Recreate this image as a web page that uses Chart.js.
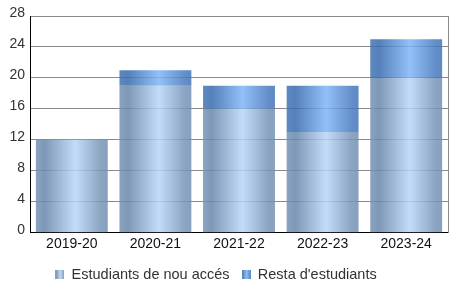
<!DOCTYPE html>
<html><head><meta charset="utf-8">
<script src="https://cdn.jsdelivr.net/npm/chart.js@4.4.1/dist/chart.umd.min.js"></script>
<style>html,body{margin:0;padding:0;background:#fff}#wrap{width:456px;height:305px}</style>
</head><body><div id="wrap"><canvas id="c" width="456" height="305"></canvas></div>
<script>
const categories = ["2019-20","2020-21","2021-22","2022-23","2023-24"];
const seriesNames = ["Estudiants de nou accés","Resta d'estudiants"];
const nouAcces = [12,19,16,13,20];
const resta = [0,2,3,6,5];
const yTicks = [0,4,8,12,16,20,24,28];

const stops = [
  [[0,'rgba(117,147,181,0.85)'],[0.12,'rgba(103,134,170,0.85)'],[0.55,'rgba(184,214,247,0.85)'],[0.9,'rgba(119,149,184,0.85)'],[1,'rgba(113,143,178,0.85)']],
  [[0,'rgba(67,115,180,0.85)'],[0.12,'rgba(55,106,175,0.85)'],[0.55,'rgba(128,181,246,0.85)'],[0.9,'rgba(73,124,194,0.85)'],[1,'rgba(66,116,183,0.85)']]
];
const legendStops = [
  [[0,'#8aa3c0'],[0.12,'#7e98b7'],[0.55,'#c3dcf8'],[0.9,'#8ba5c3'],[1,'#86a0be']],
  [[0,'#5f88bf'],[0.12,'#5580bb'],[0.55,'#93c0f7'],[0.9,'#6490cb'],[1,'#5e89c2']]
];
function boxImg(s){
  const cv=document.createElement('canvas');cv.width=9;cv.height=9;
  const g=cv.getContext('2d');const gr=g.createLinearGradient(0,0,9,0);
  s.forEach(st=>gr.addColorStop(st[0],st[1]));g.fillStyle=gr;g.fillRect(0,0,9,9);return cv;
}
const imgs=[boxImg(legendStops[0]),boxImg(legendStops[1])];

const gradPlugin={id:'grad',
  afterLayout(chart){const l=chart.legend;if(l){l.left-=8;l.right-=8;}},
  beforeDatasetsDraw(chart){
  const ctx=chart.ctx;
  chart.data.datasets.forEach((ds,i)=>{
    const meta=chart.getDatasetMeta(i);
    meta.data.forEach(el=>{
      const x0=el.x-el.width/2,x1=el.x+el.width/2;
      const gr=ctx.createLinearGradient(x0,0,x1,0);
      stops[i].forEach(st=>gr.addColorStop(st[0],st[1]));
      el.options=Object.assign({},el.options,{backgroundColor:gr});
    });
  });
}};

new Chart(document.getElementById('c'),{
  type:'bar',
  data:{labels:categories,datasets:[
    {label:seriesNames[0],data:nouAcces,backgroundColor:'#a0b8d4',pointStyle:imgs[0],borderWidth:0},
    {label:seriesNames[1],data:resta,backgroundColor:'#6f9ad6',pointStyle:imgs[1],borderWidth:0}
  ]},
  options:{
    responsive:false,animation:false,
    layout:{padding:{top:16,right:8,left:0,bottom:13}},
    datasets:{bar:{categoryPercentage:1,barPercentage:0.86}},
    plugins:{
      tooltip:{enabled:false},
      legend:{position:'bottom',labels:{usePointStyle:true,pointStyleWidth:9,boxHeight:9,boxWidth:9,padding:12,color:'#333',font:{family:'Liberation Sans',size:14.5}}}
    },
    scales:{
      x:{stacked:true,grid:{display:false,drawTicks:false},border:{display:true,color:'#000',width:1},
        ticks:{color:'#111',padding:3,font:{family:'Liberation Sans',size:14}}},
      y:{stacked:true,min:0,max:28,
        afterBuildTicks(s){s.ticks=yTicks.map(v=>({value:v}));},
        afterFit(s){s.width=30;},
        grid:{color:'#8a8a8a',drawTicks:false,lineWidth:1},
        border:{display:true,color:'#000',width:1},
        ticks:{color:'#333',padding:5,labelOffset:-3,font:{family:'Liberation Sans',size:14}}},
      y2:{position:'right',min:0,max:28,display:true,
        afterFit(s){s.width=0;},
        grid:{display:false,drawOnChartArea:false},
        border:{display:true,color:'#8a8a8a',width:1},
        ticks:{display:false}}
    }
  },
  plugins:[gradPlugin]
});
</script></body></html>
